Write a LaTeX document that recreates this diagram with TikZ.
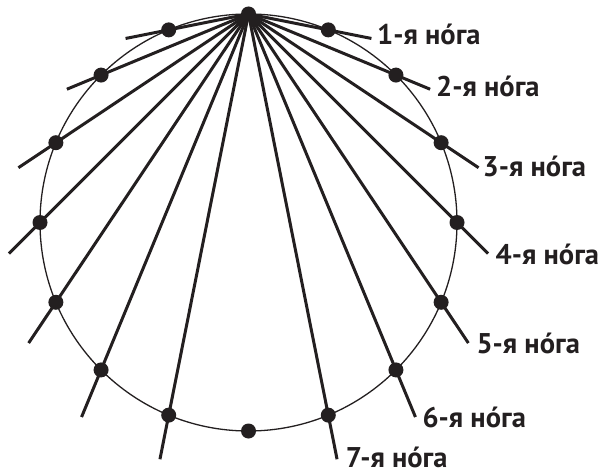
\documentclass[tikz,border=0pt]{standalone}
\usepackage{fontspec}
\setmainfont{PT Sans}
\usetikzlibrary{calc}
\definecolor{ink}{HTML}{231F20}
\begin{document}
\begin{tikzpicture}[x=1pt,y=-1pt,
  dot/.style={circle,fill=ink,inner sep=0pt,minimum size=15pt},
  leg/.style={line width=3pt,draw=ink},
  rim/.style={line width=1.3pt,draw=ink},
  lbl/.style={font=\bfseries\fontsize{28.5}{32}\selectfont,text=ink,anchor=base west,inner sep=0pt,text depth=0pt}]
\useasboundingbox (0,0) rectangle (599,473);
\draw[rim] (248.5,222.5) circle[radius=208.5];
\foreach \k in {0,...,15} {
  \coordinate (c\k) at ({248.5+208.5*sin(22.5*\k)},{222.5-208.5*cos(22.5*\k)});
}
\foreach \k/\L in {1/44,2/37,3/45,4/44,5/49,6/51,7/45,9/45,10/51,11/49,12/44,13/45,14/37,15/44} {
  \coordinate (e\k) at ($(c\k)!-\L pt!(c0)$);
  \draw[leg] (c0) -- (e\k);
}
\foreach \k in {0,...,15} {
  \node[dot] (p\k) at (c\k) {};
}
\node[lbl] (l1) at (377,45) {1-я нóга};
\node[lbl] (l2) at (436,97) {2-я нóга};
\node[lbl] (l3) at (482.5,176) {3-я нóга};
\node[lbl] (l4) at (495.5,264) {4-я нóга};
\node[lbl] (l5) at (476.3,353) {5-я нóга};
\node[lbl] (l6) at (422.3,427) {6-я нóга};
\node[lbl] (l7) at (345.7,467) {7-я нóга};
\end{tikzpicture}
\end{document}
